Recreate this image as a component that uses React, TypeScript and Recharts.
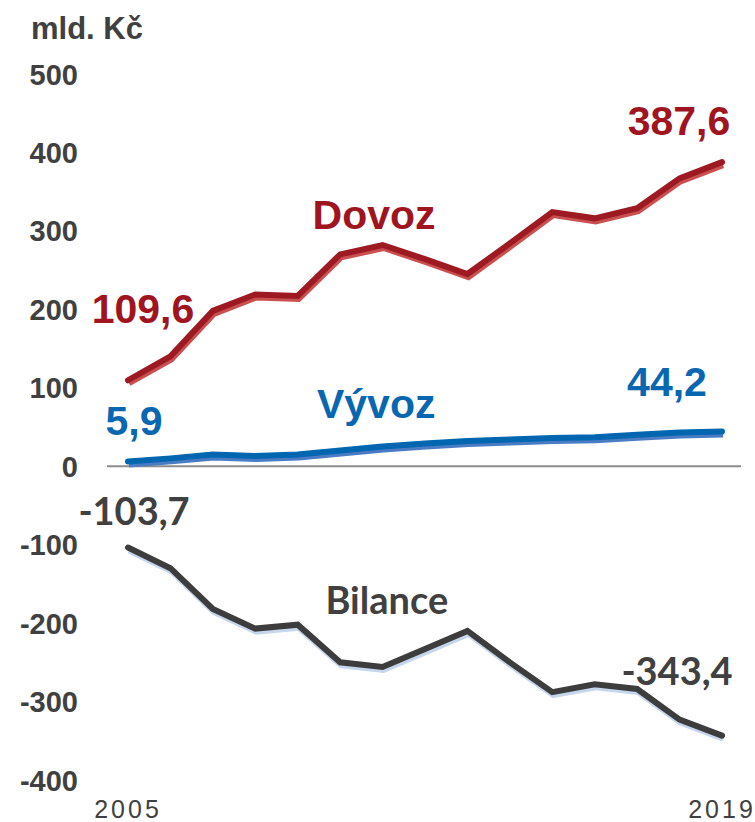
import React from "react";
import {
  LineChart,
  Line,
  XAxis,
  YAxis,
  ReferenceLine,
  ReferenceDot,
  LabelList,
} from "recharts";

const years = [2005, 2006, 2007, 2008, 2009, 2010, 2011, 2012, 2013, 2014, 2015, 2016, 2017, 2018, 2019];
const dovoz = [109.6, 140, 198, 219, 217, 270, 282, 264, 245, 284, 324, 316, 329, 367, 387.6];
const vyvoz = [5.9, 10, 15, 13, 15, 20, 25, 29, 32, 34, 36, 37, 40, 43, 44.2];
const bilance = [-103.7, -130, -182, -207, -202, -250, -256, -233, -210, -250, -288, -278, -284, -323, -343.4];
const yTicks = [-400, -300, -200, -100, 0, 100, 200, 300, 400, 500];
const xTicks = [2005, 2019];
const unitLabel = "mld. Kč";
const seriesNames = { dovoz: "Dovoz", vyvoz: "Vývoz", bilance: "Bilance" };

const data = years.map((y, i) => ({
  year: y,
  dovoz: dovoz[i],
  vyvoz: vyvoz[i],
  bilance: bilance[i],
}));

const fmt = (v: number) => v.toFixed(1).replace(".", ",");

const ARIAL = "'Liberation Sans', Arial, sans-serif";
const CALIBRI = "Lato, 'Open Sans', sans-serif";

const styles = {
  dovoz: { line: "#9e1a23", shadow: "#c95050", text: "#a0141f", font: ARIAL, size: 41, first: [15, -57], last: [-43, -27] },
  vyvoz: { line: "#0066b0", shadow: "#4a7cc4", text: "#0867b0", font: ARIAL, size: 41, first: [6, -27], last: [-55, -36] },
  bilance: { line: "#3d3d3d", shadow: "#c6d6ec", text: "#404040", font: CALIBRI, size: 38, first: [6, -23], last: [-45, -51] },
};

const endLabel = (key: "dovoz" | "vyvoz" | "bilance") => (props: any) => {
  const { x, y, index, value } = props;
  const s = styles[key];
  let off: number[] | null = null;
  if (index === 0) off = s.first;
  else if (index === years.length - 1) off = s.last;
  if (!off) return null;
  return (
    <text
      x={x + off[0]}
      y={y + off[1]}
      textAnchor="middle"
      fill={s.text}
      fontFamily={s.font}
      fontWeight="bold"
      fontSize={s.size}
    >
      {fmt(value)}
    </text>
  );
};

const nameLabel = (text: string, color: string, font: string, size: number) => (props: any) => {
  const vb = props.viewBox || {};
  const cx = vb.x + (vb.width || 0) / 2;
  const cy = vb.y + (vb.height || 0) / 2;
  return (
    <text x={cx} y={cy} textAnchor="middle" fill={color} fontFamily={font} fontWeight="bold" fontSize={size}>
      {text}
    </text>
  );
};

const YTick = (props: any) => {
  const { x, y, payload } = props;
  return (
    <text x={x} y={y} dy={10.5} textAnchor="end" fill="#404040" fontFamily={ARIAL} fontWeight="bold" fontSize={29}>
      {payload.value}
    </text>
  );
};

const XTick = (props: any) => {
  const { x, y, payload } = props;
  return (
    <text x={x} y={y + 38} textAnchor="middle" fill="#404040" fontFamily={ARIAL} fontSize={25} letterSpacing={3}>
      {payload.value}
    </text>
  );
};

export default function App() {
  return (
    <div style={{ position: "relative", width: 755, height: 822 }}>
      <style>{`body { margin: 0; } .shadow-line { transform: translate(1px, 3px); }`}</style>
      <div
        style={{
          position: "absolute",
          left: 31,
          top: 12,
          fontFamily: ARIAL,
          fontWeight: "bold",
          fontSize: 31,
          lineHeight: "34px",
          color: "#404040",
          whiteSpace: "nowrap",
        }}
      >
        {unitLabel}
      </div>
      <LineChart width={755} height={822} data={data} margin={{ top: 74, right: 14, bottom: 12, left: 0 }}>
        <XAxis
          dataKey="year"
          type="number"
          domain={[2005, 2019]}
          ticks={xTicks}
          axisLine={false}
          tickLine={false}
          tickSize={0}
          tickMargin={0}
          height={30}
          padding={{ left: 21, right: 19 }}
          tick={<XTick />}
        />
        <YAxis
          type="number"
          domain={[-400, 500]}
          ticks={yTicks}
          axisLine={false}
          tickLine={false}
          tickSize={0}
          tickMargin={29}
          width={107}
          interval={0}
          tick={<YTick />}
        />
        <ReferenceLine y={0} stroke="#8c8c8c" strokeWidth={2} />
        {(["dovoz", "vyvoz", "bilance"] as const).map((k) => (
          <Line
            key={k + "-shadow"}
            className="shadow-line"
            dataKey={k}
            type="linear"
            stroke={styles[k].shadow}
            strokeWidth={6}
            dot={false}
            activeDot={false}
            isAnimationActive={false}
          />
        ))}
        {(["dovoz", "vyvoz", "bilance"] as const).map((k) => (
          <Line
            key={k}
            dataKey={k}
            type="linear"
            stroke={styles[k].line}
            strokeWidth={6}
            strokeLinecap="round"
            dot={false}
            activeDot={false}
            isAnimationActive={false}
          >
            <LabelList dataKey={k} content={endLabel(k)} />
          </Line>
        ))}
        <ReferenceDot
          x={2010.8}
          y={302}
          r={0.01}
          fill="none"
          stroke="none"
          label={nameLabel(seriesNames.dovoz, styles.dovoz.text, ARIAL, 41)}
        />
        <ReferenceDot
          x={2010.85}
          y={61}
          r={0.01}
          fill="none"
          stroke="none"
          label={nameLabel(seriesNames.vyvoz, styles.vyvoz.text, ARIAL, 41)}
        />
        <ReferenceDot
          x={2011.1}
          y={-189}
          r={0.01}
          fill="none"
          stroke="none"
          label={nameLabel(seriesNames.bilance, styles.bilance.text, CALIBRI, 38)}
        />
      </LineChart>
    </div>
  );
}
